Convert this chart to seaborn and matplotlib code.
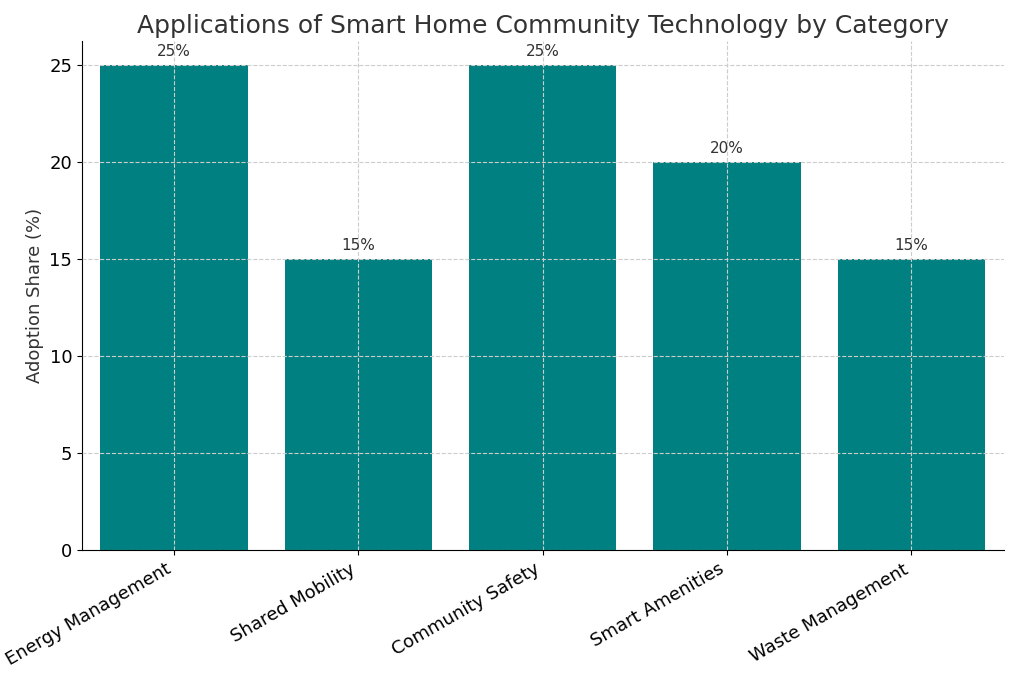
import matplotlib
matplotlib.use("Agg")
import matplotlib.pyplot as plt
import seaborn as sns
import pandas as pd

categories = ["Energy Management", "Shared Mobility", "Community Safety", "Smart Amenities", "Waste Management"]
values = [25, 15, 25, 20, 15]

df = pd.DataFrame({"cat": categories, "val": values})
fig, ax = plt.subplots(figsize=(10.24, 6.88), dpi=100)
sns.barplot(data=df, x="cat", y="val", color="#008080", saturation=1, width=0.8, ax=ax)
for i, v in enumerate(values):
    ax.text(i, v + 0.3, f"{v}%", ha="center", va="bottom", fontsize=11, color="#333333")
ax.set_title("Applications of Smart Home Community Technology by Category", fontsize=18, color="#333333")
ax.set_xlabel("")
ax.set_ylabel("Adoption Share (%)", fontsize=13, color="#333333")
ax.grid(True, linestyle="--", color="#cccccc", linewidth=0.8)
ax.set_axisbelow(False)
for b in ax.patches:
    b.set_zorder(1)
ax.spines["top"].set_visible(False)
ax.spines["right"].set_visible(False)
plt.xticks(rotation=30, ha="right", fontsize=13)
plt.yticks(fontsize=13)
ax.set_ylim(0, 26.2)
plt.subplots_adjust(left=0.08, right=0.98, top=0.94, bottom=0.2)
fig.savefig("out.png")
